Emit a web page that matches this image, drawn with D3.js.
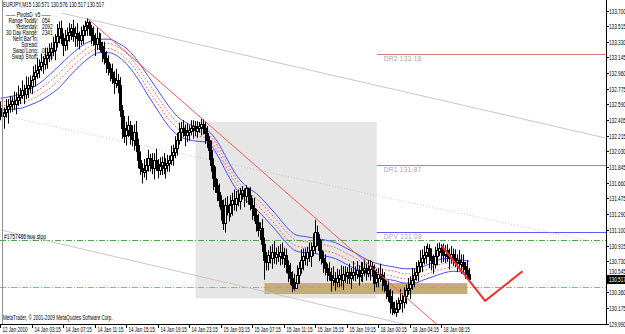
<!DOCTYPE html>
<html>
<head>
<meta charset="utf-8">
<script src="https://cdn.jsdelivr.net/npm/d3@7"></script>
<style>
  body { margin: 0; background: #fff; }
  svg { display: block; font-family: "Liberation Sans", Arial, sans-serif; }
</style>
</head>
<body>
<div id="chart"></div>
<script>
// DATA (EURJPY M15)
//=====================
var opens = [
  132.55,132.50,132.45,132.49,132.53,132.57,132.59,132.63,132.59,132.64,
  132.68,132.70,132.76,132.71,132.78,132.82,132.81,132.88,132.92,132.97,
  133.00,133.04,133.09,133.07,133.14,133.17,133.21,133.26,133.23,133.33,
  133.40,133.49,133.37,133.29,133.35,133.41,133.45,133.49,133.40,133.43,
  133.37,133.35,133.41,133.47,133.52,133.56,133.49,133.41,133.35,133.30,
  133.37,133.33,133.28,133.21,133.14,133.09,133.02,132.97,132.90,132.85,
  132.88,132.82,132.52,132.31,132.22,132.28,132.34,132.22,132.17,132.26,
  132.11,131.93,131.83,131.79,131.81,131.87,131.95,131.90,131.83,131.93,
  131.88,131.81,131.86,131.90,131.83,131.87,131.89,131.93,131.99,132.02,
  132.07,132.17,132.26,132.31,132.28,132.22,132.26,132.28,132.31,132.33,
  132.28,132.31,132.33,132.36,132.31,132.25,132.17,132.05,131.87,131.72,
  131.63,131.55,131.45,131.34,131.19,131.40,131.36,131.31,131.40,131.45,
  131.41,131.48,131.45,131.53,131.57,131.50,131.60,131.51,131.40,131.36,
  131.28,131.19,131.10,131.12,130.93,130.74,130.72,130.80,130.77,130.84,
  130.78,130.81,130.79,130.84,130.77,130.80,130.69,130.60,130.53,130.45,
  130.41,130.48,130.57,130.65,130.74,130.79,130.77,130.84,130.79,130.86,
  130.91,131.08,130.99,130.86,130.77,130.72,130.65,130.60,130.57,130.51,
  130.53,130.48,130.53,130.56,130.51,130.58,130.56,130.60,130.53,130.57,
  130.60,130.58,130.63,130.56,130.60,130.63,130.65,130.60,130.63,130.67,
  130.63,130.48,130.53,130.58,130.56,130.51,130.45,130.39,130.32,130.25,
  130.18,130.13,130.16,130.23,130.27,130.25,130.32,130.39,130.41,130.46,
  130.51,130.56,130.60,130.67,130.72,130.77,130.80,130.84,130.89,130.79,
  130.74,130.70,130.79,130.86,130.89,130.84,130.81,130.86,130.79,130.77,
  130.81,130.77,130.72,130.74,130.70,130.72,130.67,130.63,130.58
];
var highs = [
  132.62,132.60,132.55,132.65,132.65,132.69,132.68,132.74,132.73,132.81,
  132.78,132.87,132.82,132.92,132.91,132.93,132.93,133.04,133.06,133.14,
  133.12,133.19,133.16,133.26,133.26,133.31,133.32,133.39,133.42,133.54,
  133.57,133.58,133.43,133.47,133.50,133.55,133.54,133.59,133.51,133.55,
  133.45,133.51,133.53,133.58,133.61,133.58,133.53,133.51,133.43,133.50,
  133.44,133.43,133.33,133.33,133.22,133.17,133.07,133.07,132.98,133.01,
  132.95,132.91,132.58,132.45,132.38,132.45,132.39,132.34,132.35,132.39,
  132.18,132.03,131.89,131.94,131.95,132.05,132.00,132.01,132.01,132.06,
  131.94,131.96,131.97,132.01,131.95,131.99,131.98,132.10,132.11,132.21,
  132.25,132.37,132.38,132.40,132.35,132.36,132.34,132.40,132.40,132.39,
  132.39,132.38,132.42,132.41,132.38,132.33,132.21,132.16,131.95,131.85,
  131.70,131.65,131.51,131.46,131.48,131.50,131.41,131.51,131.54,131.58,
  131.56,131.58,131.60,131.62,131.59,131.63,131.60,131.61,131.48,131.48,
  131.35,131.29,131.19,131.23,131.01,130.84,130.86,130.91,130.93,130.97,
  130.89,130.91,130.93,130.95,130.89,130.88,130.74,130.71,130.61,130.58,
  130.56,130.68,130.72,130.87,130.88,130.88,130.90,130.95,130.95,131.06,
  131.22,131.15,131.05,130.98,130.85,130.81,130.70,130.72,130.65,130.67,
  130.60,130.64,130.63,130.68,130.67,130.67,130.66,130.70,130.65,130.73,
  130.67,130.73,130.68,130.72,130.72,130.75,130.70,130.74,130.74,130.72,
  130.69,130.64,130.65,130.70,130.64,130.60,130.50,130.50,130.40,130.38,
  130.25,130.27,130.30,130.40,130.35,130.42,130.45,130.53,130.55,130.65,
  130.64,130.72,130.74,130.86,130.87,130.91,130.91,130.94,130.93,130.88,
  130.81,130.90,130.94,130.95,130.93,130.94,130.92,130.93,130.88,130.91,
  130.88,130.87,130.81,130.86,130.81,130.81,130.72,130.74,130.65
];
var lows = [
  132.40,132.37,132.30,132.43,132.36,132.49,132.50,132.52,132.47,132.57,
  132.59,132.65,132.59,132.65,132.66,132.72,132.71,132.82,132.80,132.89,
  132.90,132.98,132.95,133.00,133.01,133.09,133.11,133.16,133.11,133.26,
  133.31,133.30,133.16,133.22,133.23,133.33,133.35,133.33,133.27,133.27,
  133.24,133.29,133.30,133.40,133.40,133.40,133.30,133.28,133.16,133.23,
  133.23,133.21,133.09,133.06,132.96,132.93,132.86,132.83,132.71,132.78,
  132.72,132.44,132.18,132.13,132.10,132.20,132.11,132.09,132.04,132.02,
  131.83,131.75,131.65,131.72,131.69,131.79,131.79,131.76,131.70,131.80,
  131.71,131.75,131.75,131.76,131.71,131.79,131.79,131.87,131.86,131.95,
  131.98,132.11,132.15,132.20,132.09,132.14,132.16,132.22,132.18,132.21,
  132.19,132.25,132.22,132.23,132.12,132.07,131.93,131.79,131.57,131.54,
  131.44,131.37,131.21,131.10,131.07,131.27,131.20,131.25,131.27,131.33,
  131.32,131.38,131.34,131.46,131.37,131.42,131.40,131.33,131.22,131.20,
  131.08,131.02,130.98,130.84,130.51,130.62,130.62,130.70,130.64,130.70,
  130.69,130.72,130.68,130.69,130.65,130.59,130.48,130.45,130.36,130.38,
  130.40,130.42,130.46,130.58,130.62,130.68,130.67,130.72,130.66,130.79,
  130.82,130.91,130.73,130.69,130.59,130.56,130.49,130.50,130.37,130.44,
  130.38,130.42,130.42,130.43,130.39,130.47,130.46,130.46,130.40,130.50,
  130.49,130.52,130.44,130.49,130.48,130.55,130.50,130.54,130.50,130.55,
  130.37,130.42,130.42,130.48,130.38,130.36,130.28,130.25,130.11,130.09,
  130.10,130.07,130.12,130.16,130.12,130.17,130.22,130.33,130.28,130.39,
  130.42,130.50,130.49,130.60,130.60,130.69,130.70,130.78,130.65,130.62,
  130.58,130.64,130.68,130.79,130.71,130.72,130.71,130.72,130.63,130.70,
  130.67,130.66,130.60,130.62,130.58,130.58,130.52,130.51,130.50
];
var closes = [
  132.50,132.45,132.49,132.53,132.57,132.59,132.63,132.59,132.64,132.68,
  132.70,132.76,132.71,132.78,132.82,132.81,132.88,132.92,132.97,133.00,
  133.04,133.09,133.07,133.14,133.17,133.21,133.26,133.23,133.33,133.40,
  133.49,133.37,133.29,133.35,133.41,133.45,133.49,133.40,133.43,133.37,
  133.35,133.41,133.47,133.52,133.56,133.49,133.41,133.35,133.30,133.37,
  133.33,133.28,133.21,133.14,133.09,133.02,132.97,132.90,132.85,132.88,
  132.82,132.52,132.31,132.22,132.28,132.34,132.22,132.17,132.26,132.11,
  131.93,131.83,131.79,131.81,131.87,131.95,131.90,131.83,131.93,131.88,
  131.81,131.86,131.90,131.83,131.87,131.89,131.93,131.99,132.02,132.07,
  132.17,132.26,132.31,132.28,132.22,132.26,132.28,132.31,132.33,132.28,
  132.31,132.33,132.36,132.31,132.25,132.17,132.05,131.87,131.72,131.63,
  131.55,131.45,131.34,131.19,131.40,131.36,131.31,131.40,131.45,131.41,
  131.48,131.45,131.53,131.57,131.50,131.60,131.51,131.40,131.36,131.28,
  131.19,131.10,131.12,130.93,130.74,130.72,130.80,130.77,130.84,130.78,
  130.81,130.79,130.84,130.77,130.80,130.69,130.60,130.53,130.45,130.41,
  130.48,130.57,130.65,130.74,130.79,130.77,130.84,130.79,130.86,130.91,
  131.08,130.99,130.86,130.77,130.72,130.65,130.60,130.57,130.51,130.53,
  130.48,130.53,130.56,130.51,130.58,130.56,130.60,130.53,130.57,130.60,
  130.58,130.63,130.56,130.60,130.63,130.65,130.60,130.63,130.67,130.63,
  130.48,130.53,130.58,130.56,130.51,130.45,130.39,130.32,130.25,130.18,
  130.13,130.16,130.23,130.27,130.25,130.32,130.39,130.41,130.46,130.51,
  130.56,130.60,130.67,130.72,130.77,130.80,130.84,130.89,130.79,130.74,
  130.70,130.79,130.86,130.89,130.84,130.81,130.86,130.79,130.77,130.81,
  130.77,130.72,130.74,130.70,130.72,130.67,130.63,130.58,130.517
];

// band indicator, read every 5 bars
var bandBars = [0,5,10,15,20,25,30,35,40,45,50,55,60,65,70,75,80,85,90,95,
  100,105,110,115,120,125,130,135,140,145,150,155,160,165,170,175,180,185,190,195,
  200,205,210,215,220,225,230,235,238];
var blueUpper = [
  132.66,132.68,132.71,132.77,132.84,132.94,133.05,133.16,133.26,133.33,
  133.36,133.36,133.31,133.23,133.09,132.92,132.75,132.58,132.44,132.36,
  132.32,132.28,132.15,131.94,131.74,131.61,131.53,131.41,131.28,131.14,
  131.04,131.02,131.00,130.98,130.95,130.89,130.83,130.76,130.71,130.68,
  130.66,130.64,130.64,130.67,130.72,130.76,130.76,130.74,130.73];
var redUpper = [
  132.62,132.63,132.66,132.71,132.77,132.86,132.96,133.08,133.18,133.27,
  133.31,133.31,133.26,133.17,133.02,132.85,132.67,132.50,132.37,132.30,
  132.27,132.24,132.10,131.89,131.69,131.56,131.47,131.35,131.22,131.08,
  130.98,130.96,130.95,130.92,130.89,130.83,130.77,130.70,130.66,130.63,
  130.61,130.58,130.58,130.62,130.67,130.70,130.71,130.70,130.69];
var redLower = [
  132.57,132.58,132.60,132.64,132.70,132.78,132.88,133.00,133.11,133.20,
  133.25,133.25,133.20,133.10,132.95,132.76,132.59,132.42,132.30,132.22,
  132.21,132.19,132.04,131.83,131.63,131.50,131.40,131.28,131.15,131.00,
  130.91,130.89,130.87,130.85,130.82,130.76,130.70,130.64,130.60,130.57,
  130.55,130.52,130.52,130.56,130.61,130.64,130.66,130.64,130.63];
var blueLower = [
  132.52,132.53,132.54,132.58,132.63,132.70,132.79,132.92,133.04,133.14,
  133.20,133.20,133.15,133.04,132.88,132.69,132.51,132.34,132.22,132.17,
  132.15,132.14,131.99,131.77,131.57,131.44,131.34,131.22,131.09,130.95,
  130.85,130.83,130.82,130.79,130.76,130.70,130.64,130.59,130.54,130.52,
  130.50,130.47,130.47,130.51,130.55,130.59,130.61,130.60,130.59];

// price axis and time axis labels
var priceTicks = ["133.700","133.515","133.330","133.145","132.960","132.775","132.590",
  "132.405","132.215","132.030","131.845","131.660","131.475","131.290","131.100",
  "130.915","130.730","130.545","130.360","130.175","129.990"];
var timeTickBars = [0,16,32,48,64,80,96,112,128,144,160,176,192,208,224];
var timeTickLabels = ["12 Jan 2010","14 Jan 03:15","14 Jan 07:15","14 Jan 11:15",
  "14 Jan 15:15","14 Jan 19:15","14 Jan 23:15","15 Jan 03:15","15 Jan 07:15",
  "15 Jan 11:15","15 Jan 15:15","15 Jan 19:15","18 Jan 00:15","18 Jan 04:15","18 Jan 08:15"];

// chart objects: [bar, price]
var redTrend = [[44,133.61],[222,129.97]];
var grayTrend = [[31,133.67],[307,132.19]];
var grayDotTrend = [[0,132.46],[307,130.93]];
var grayLowTrend = [[0,131.10],[213,129.94]];
var redZigzag = [[224,130.91],[246,130.26],[265,130.61]];
var grayBox = [99,191,132.38,130.29];
var zoneBox = [134,237,130.47,130.34];
var pivotNames = ["DR2","DR1","DPV"];
var pivotValues = [133.18,131.87,131.08];
var pivotStartBar = 191;
var buyStopLevel = 130.975;
var orangeLevel = 130.424;
var bidPrice = 130.517;

var infoLabels = ["Range Today:","Yesterday:","30 Day Range:","Next Bar In:","Spread:","Swap Long:","Swap Short:"];
var infoValues = ["054","2092","2341","","","0.18","-1.20"];

// SETUP
//=====================
var svgWidth = 625;
var svgHeight = 334;
var plotRight = 606;
var plotBottom = 324;

var svg = d3.select("#chart")
  .append("svg")
  .attr("width", svgWidth)
  .attr("height", svgHeight);

var xScale = d3.scaleLinear().domain([0, 300]).range([0.5, 0.5 + 300 * 1.97]);
var yScale = d3.scaleLinear().domain([133.700, 129.990]).range([10.5, 323.6]);

svg.append("clipPath").attr("id", "plotClip")
  .append("rect").attr("x", 0).attr("y", 0).attr("width", plotRight).attr("height", plotBottom);

var plot = svg.append("g").attr("clip-path", "url(#plotClip)");

function addText(g, x, y, str, size, sx, color) {
  return g.append("text")
    .attr("transform", `translate(${x},${y}) scale(${sx},1)`)
    .attr("font-size", size)
    .attr("fill", color)
    .text(str);
}

// RECTANGLES
//=====================
plot.append("rect")
  .attr("x", xScale(grayBox[0]))
  .attr("y", yScale(grayBox[2]))
  .attr("width", xScale(grayBox[1]) - xScale(grayBox[0]))
  .attr("height", yScale(grayBox[3]) - yScale(grayBox[2]))
  .attr("fill", "#e6e6e6");

plot.append("rect")
  .attr("x", xScale(zoneBox[0]))
  .attr("y", yScale(zoneBox[2]))
  .attr("width", xScale(zoneBox[1]) - xScale(zoneBox[0]))
  .attr("height", yScale(zoneBox[3]) - yScale(zoneBox[2]))
  .attr("fill", "#c4ad78");

// HORIZONTAL LEVELS
//=====================
plot.append("line")
  .attr("x1", 0).attr("x2", plotRight)
  .attr("y1", Math.round(yScale(orangeLevel)) + 0.5).attr("y2", Math.round(yScale(orangeLevel)) + 0.5)
  .attr("stroke", "#f08a6a").attr("stroke-dasharray", "6,2,1,2");

plot.append("line")
  .attr("x1", 0).attr("x2", plotRight)
  .attr("y1", Math.round(yScale(buyStopLevel)) + 0.5).attr("y2", Math.round(yScale(buyStopLevel)) + 0.5)
  .attr("stroke", "#4aa84a").attr("stroke-dasharray", "6,2,1,2");

pivotValues.forEach(function(v, k) {
  var y = Math.round(yScale(v)) + 0.5;
  plot.append("line")
    .attr("x1", xScale(pivotStartBar)).attr("x2", plotRight)
    .attr("y1", y).attr("y2", y)
    .attr("stroke", k == 2 ? "#5a5aff" : "#dd7777");
  addText(plot, xScale(pivotStartBar) + 7, y + 6.5, pivotNames[k] + "  " + v.toFixed(2), 6.5, 1, "#a8a8a8")
    .attr("letter-spacing", 0.3);
});

// TREND LINES
//=====================
var line = d3.line().x(d => xScale(d[0])).y(d => yScale(d[1]));

plot.append("path").attr("d", line(grayTrend)).attr("fill", "none").attr("stroke", "#c8c8c8");
plot.append("path").attr("d", line(grayDotTrend)).attr("fill", "none").attr("stroke", "#c8c8c8").attr("stroke-dasharray", "1,2");
plot.append("path").attr("d", line(grayLowTrend)).attr("fill", "none").attr("stroke", "#c8c8c8");

// BAND INDICATOR
//=====================
var bandLine = d3.line().curve(d3.curveMonotoneX);
function bandPath(vals) {
  return bandLine(vals.map((v, k) => [xScale(bandBars[k]), yScale(v)]));
}
plot.append("path").attr("d", bandPath(blueUpper)).attr("fill", "none").attr("stroke", "#4b4bff");
plot.append("path").attr("d", bandPath(blueLower)).attr("fill", "none").attr("stroke", "#4b4bff");
plot.append("path").attr("d", bandPath(redUpper)).attr("fill", "none").attr("stroke", "#ff5050").attr("stroke-dasharray", "1.5,2");
plot.append("path").attr("d", bandPath(redLower)).attr("fill", "none").attr("stroke", "#ff5050").attr("stroke-dasharray", "1.5,2");

// CANDLES
//=====================
var bars = d3.range(closes.length);
var candles = plot.append("g").selectAll("g")
  .data(bars)
  .enter()
  .append("g");

candles.append("line")
  .attr("x1", i => Math.floor(xScale(i)) + 0.5)
  .attr("x2", i => Math.floor(xScale(i)) + 0.5)
  .attr("y1", i => yScale(highs[i]))
  .attr("y2", i => yScale(lows[i]))
  .attr("stroke", "#000");

// white body with black edge for up bars, black for down bars
candles.append("rect")
  .attr("x", i => Math.floor(xScale(i)) - 0.5)
  .attr("y", i => Math.round(yScale(Math.max(opens[i], closes[i]))) + 0.5)
  .attr("width", 2)
  .attr("height", i => Math.max(1, Math.round(Math.abs(yScale(opens[i]) - yScale(closes[i])))))
  .attr("fill", i => closes[i] >= opens[i] ? "#fff" : "#000")
  .attr("stroke", "#000");

// RED TREND + ZIGZAG
//=====================
plot.append("path").attr("d", line(redTrend)).attr("fill", "none").attr("stroke", "#f25a5a");
plot.append("path").attr("d", line(redZigzag)).attr("fill", "none").attr("stroke", "#ff2a2a").attr("stroke-width", 2);

// TEXTS ON CHART
//=====================
addText(plot, 4, yScale(buyStopLevel) - 1, "#1757486 buy stop", 6.5, 0.76, "#000");
addText(svg, 3, 7, "EURJPY,M15  130.571 130.576 130.517 130.517", 6.5, 0.72, "#000");
addText(svg, 6, 17, "------ PivotsD_v5 ------", 6.5, 0.72, "#000");
infoLabels.forEach(function(t, k) {
  var y = 23 + k * 6;
  addText(svg, 38, y, t, 6.5, 0.74, "#000").attr("text-anchor", "end");
  addText(svg, 42, y, infoValues[k], 6.5, 0.74, "#000");
});
addText(svg, 3, 320, "MetaTrader, \u00a9 2001-2009 MetaQuotes Software Corp.", 6.5, 0.7, "#000");

// AXES
//=====================
svg.append("line").attr("x1", 2.5).attr("x2", 2.5).attr("y1", 0).attr("y2", plotBottom).attr("stroke", "#909090");
svg.append("line").attr("x1", plotRight + 0.5).attr("x2", plotRight + 0.5).attr("y1", 0).attr("y2", plotBottom + 1).attr("stroke", "#000");
svg.append("line").attr("x1", 0).attr("x2", plotRight + 1).attr("y1", plotBottom + 0.5).attr("y2", plotBottom + 0.5).attr("stroke", "#000");

var yb = Math.round(yScale(bidPrice));

priceTicks.forEach(function(t) {
  var y = Math.round(yScale(+t)) + 0.5;
  svg.append("line").attr("x1", plotRight).attr("x2", plotRight + 3).attr("y1", y).attr("y2", y).attr("stroke", "#000");
  // the label that sits under the bid box is nudged just above it
  var ty = Math.abs(y - yb) < 8 ? yb - 5 : y + 2.3;
  addText(svg, plotRight + 3, ty, t, 6.5, 0.72, "#000");
});

timeTickBars.forEach(function(b, k) {
  var x = Math.floor(xScale(b)) + 0.5;
  svg.append("line").attr("x1", x).attr("x2", x).attr("y1", plotBottom).attr("y2", plotBottom + 4).attr("stroke", "#000");
  addText(svg, x + 2, 332, timeTickLabels[k], 6.5, 0.7, "#000");
});

// bid price box
svg.append("rect").attr("x", plotRight + 1).attr("y", yb - 4).attr("width", 19).attr("height", 9).attr("fill", "#000");
addText(svg, plotRight + 3, yb + 2.5, bidPrice.toFixed(3), 6.5, 0.72, "#fff");
</script>
</body>
</html>
